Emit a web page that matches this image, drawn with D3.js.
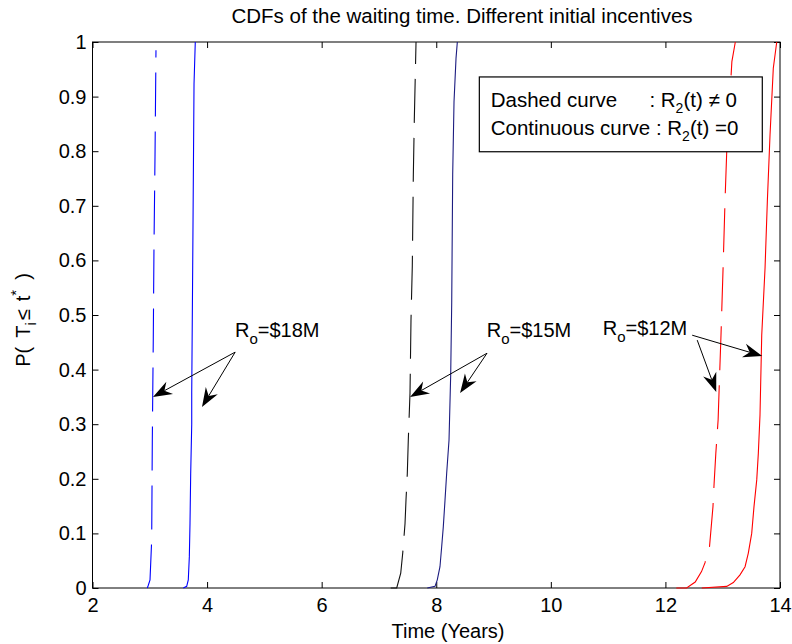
<!DOCTYPE html>
<html>
<head>
<meta charset="utf-8">
<script src="https://cdn.jsdelivr.net/npm/d3@7"></script>
<style>
  body { margin: 0; background: #fff; }
  text { font-family: "Liberation Sans", Arial, sans-serif; fill: #000; }
</style>
</head>
<body>
<svg id="chart" width="792" height="644"></svg>
<script>
// ---------------- data ----------------
const xTicks = [2, 4, 6, 8, 10, 12, 14];
const yTicks = [0, 0.1, 0.2, 0.3, 0.4, 0.5, 0.6, 0.7, 0.8, 0.9, 1];

// R0 = $18M
const blueDashT = [2.957, 2.974, 3.004, 3.033, 3.044, 3.051, 3.061, 3.073, 3.091, 3.108];
const blueDashP = [0, 0.005, 0.015, 0.088, 0.271, 0.35, 0.457, 0.623, 0.79, 0.985];
const blueSolidT = [3.585, 3.644, 3.672, 3.690, 3.702, 3.714, 3.732, 3.732, 3.749, 3.772, 3.794];
const blueSolidP = [0, 0.003, 0.015, 0.057, 0.119, 0.21, 0.30, 0.357, 0.59, 0.923, 1];

// R0 = $15M
const blackDashT = [7.205, 7.310, 7.380, 7.415, 7.455, 7.472, 7.495, 7.512, 7.542, 7.559, 7.582, 7.600, 7.617, 7.647];
const blackDashP = [0, 0, 0.027, 0.064, 0.118, 0.161, 0.21, 0.271, 0.357, 0.49, 0.59, 0.757, 0.857, 1];
const navySolidT = [7.844, 7.978, 8.018, 8.065, 8.095, 8.123, 8.153, 8.182, 8.223, 8.252, 8.270, 8.287, 8.310, 8.345, 8.368];
const navySolidP = [0, 0.003, 0.015, 0.039, 0.076, 0.112, 0.161, 0.21, 0.271, 0.39, 0.523, 0.757, 0.89, 0.97, 1];

// R0 = $12M
const redDashT = [12.19, 12.37, 12.52, 12.63, 12.69, 12.77, 12.83, 12.85, 12.88, 12.92, 12.94, 12.97, 13.01, 13.04, 13.07, 13.16, 13.22];
const redDashP = [0, 0, 0.011, 0.03, 0.046, 0.076, 0.149, 0.192, 0.247, 0.308, 0.372, 0.463, 0.598, 0.708, 0.799, 0.964, 1];
const redSolidT = [12.634, 13.070, 13.185, 13.302, 13.390, 13.447, 13.506, 13.546, 13.594, 13.622, 13.651, 13.681, 13.739, 13.779, 13.826, 13.883, 13.943];
const redSolidP = [0, 0.003, 0.01, 0.024, 0.039, 0.064, 0.1, 0.149, 0.198, 0.247, 0.317, 0.463, 0.586, 0.708, 0.83, 0.952, 1];

// annotations: label anchor and arrows [startT, startP, endT, endP]
const annLabels = ["18", "15", "12"];
const annTextT = [4.487, 8.881, 10.905];
const annTextP = [0.460, 0.460, 0.463];
const arrows18 = [[4.49, 0.432, 3.056, 0.350], [4.49, 0.432, 3.911, 0.3315]];
const arrows15 = [[8.886, 0.430, 7.543, 0.350], [8.886, 0.430, 8.416, 0.357]];
const arrows12 = [[12.467, 0.463, 13.689, 0.425], [12.555, 0.454, 12.887, 0.359]];

// ---------------- layout ----------------
const svg = d3.select("#chart");
const L = 92.5, R = 780, T = 42, B = 588;
const x = d3.scaleLinear().domain([2, 14]).range([L, R]);
const y = d3.scaleLinear().domain([0, 1]).range([B, T]);

// axes box
svg.append("rect").attr("x", L).attr("y", T).attr("width", R - L).attr("height", B - T)
  .attr("fill", "#fff").attr("stroke", "#000").attr("stroke-width", 1);

const tl = 6;
function styleAxis(g) {
  g.select(".domain").remove();
  g.selectAll(".tick line").attr("stroke", "#000");
  g.selectAll(".tick text").style("font-size", "20px").style("font-family", '"Liberation Sans", Arial, sans-serif');
}
svg.append("g").attr("transform", `translate(0,${B})`)
  .call(d3.axisBottom(x).tickValues(xTicks).tickSizeInner(-tl).tickSizeOuter(0).tickPadding(10).tickFormat(d3.format("d")))
  .call(styleAxis);
svg.append("g").attr("transform", `translate(0,${T})`)
  .call(d3.axisTop(x).tickValues(xTicks).tickSizeInner(-tl).tickSizeOuter(0).tickFormat(""))
  .call(styleAxis);
svg.append("g").attr("transform", `translate(${L},0)`)
  .call(d3.axisLeft(y).tickValues(yTicks).tickSizeInner(-tl).tickSizeOuter(0).tickPadding(6).tickFormat(d => d === 0 || d === 1 ? d3.format("d")(d) : d3.format(".1f")(d)))
  .call(styleAxis);
svg.append("g").attr("transform", `translate(${R},0)`)
  .call(d3.axisRight(y).tickValues(yTicks).tickSizeInner(-tl).tickSizeOuter(0).tickFormat(""))
  .call(styleAxis);

// ---------------- curves ----------------
const line = d3.line().x(d => x(d[0])).y(d => y(d[1]));
const series = [
  { t: blueDashT, p: blueDashP, color: "#0000ff", dash: "44,15" },
  { t: blueSolidT, p: blueSolidP, color: "#0000ff", dash: null },
  { t: blackDashT, p: blackDashP, color: "#111111", dash: "44,15" },
  { t: navySolidT, p: navySolidP, color: "#1c1c80", dash: null },
  { t: redDashT, p: redDashP, color: "#ff0000", dash: "44,15" },
  { t: redSolidT, p: redSolidP, color: "#ff0000", dash: null }
];
series.forEach(s => {
  svg.append("path")
    .datum(s.t.map((t, i) => [t, s.p[i]]))
    .attr("d", line)
    .attr("fill", "none")
    .attr("stroke", s.color)
    .attr("stroke-width", 1.1)
    .attr("stroke-dasharray", s.dash);
});

// ---------------- legend box ----------------
const lg = svg.append("g");
lg.append("rect").attr("x", x(8.752)).attr("y", y(0.936))
  .attr("width", x(13.691) - x(8.752)).attr("height", y(0.799) - y(0.936))
  .attr("fill", "#fff").attr("stroke", "#000").attr("stroke-width", 1.2);
function r2(textSel, rest) {
  textSel.append("tspan").text("R");
  textSel.append("tspan").attr("dy", 6).style("font-size", "14px").text("2");
  textSel.append("tspan").attr("dy", -6).text(rest);
}
const l1a = lg.append("text").attr("x", x(8.95)).attr("y", y(0.881)).style("font-size", "20.5px").text("Dashed curve");
const l1b = lg.append("text").attr("x", x(11.72)).attr("y", y(0.881)).style("font-size", "20.5px");
l1b.append("tspan").text(": ");
r2(l1b, "(t) \u2260 0");
const l2 = lg.append("text").attr("x", x(8.95)).attr("y", y(0.829)).style("font-size", "20.5px");
l2.append("tspan").text("Continuous curve : ");
r2(l2, "(t) =0");

// ---------------- annotations ----------------
annLabels.forEach((lab, i) => {
  const t = svg.append("text").attr("x", x(annTextT[i])).attr("y", y(annTextP[i])).style("font-size", "20px");
  t.append("tspan").text("R");
  t.append("tspan").attr("dy", 7).style("font-size", "15px").text("o");
  t.append("tspan").attr("dy", -7).text("=$" + lab + "M");
});
function arrow(a) {
  const x1 = x(a[0]), y1 = y(a[1]), x2 = x(a[2]), y2 = y(a[3]);
  const dx = x2 - x1, dy = y2 - y1, len = Math.hypot(dx, dy);
  const ux = dx / len, uy = dy / len, nx = -uy, ny = ux;
  const Lh = 19, W = 7, notch = 6;
  const bx = x2 - Lh * ux, by = y2 - Lh * uy;
  const mx = x2 - (Lh - notch) * ux, my = y2 - (Lh - notch) * uy;
  svg.append("line").attr("x1", x1).attr("y1", y1).attr("x2", mx).attr("y2", my)
    .attr("stroke", "#000").attr("stroke-width", 1);
  svg.append("path")
    .attr("d", `M${x2},${y2}L${bx + W * nx},${by + W * ny}L${mx},${my}L${bx - W * nx},${by - W * ny}Z`)
    .attr("fill", "#000");
}
[...arrows18, ...arrows15, ...arrows12].forEach(arrow);

// ---------------- titles ----------------
svg.append("text").attr("x", 462).attr("y", 23).attr("text-anchor", "middle")
  .style("font-size", "20.5px").text("CDFs of the waiting time. Different initial incentives");
svg.append("text").attr("x", 448).attr("y", 638).attr("text-anchor", "middle")
  .style("font-size", "20px").text("Time (Years)");
const yl = svg.append("text").attr("transform", `translate(30,${(T + B) / 2 + 5}) rotate(-90)`)
  .attr("text-anchor", "middle").style("font-size", "20px");
yl.append("tspan").text("P(");
yl.append("tspan").attr("dx", 9).text("T");
yl.append("tspan").attr("dy", 6).style("font-size", "15px").text("i");
yl.append("tspan").attr("dy", -6).attr("dx", 2).text("\u2264");
yl.append("tspan").attr("dx", 8).text("t");
yl.append("tspan").attr("dy", -9).style("font-size", "15px").text("*");
yl.append("tspan").attr("dy", 9).attr("dx", 10).text(")");
</script>
</body>
</html>
